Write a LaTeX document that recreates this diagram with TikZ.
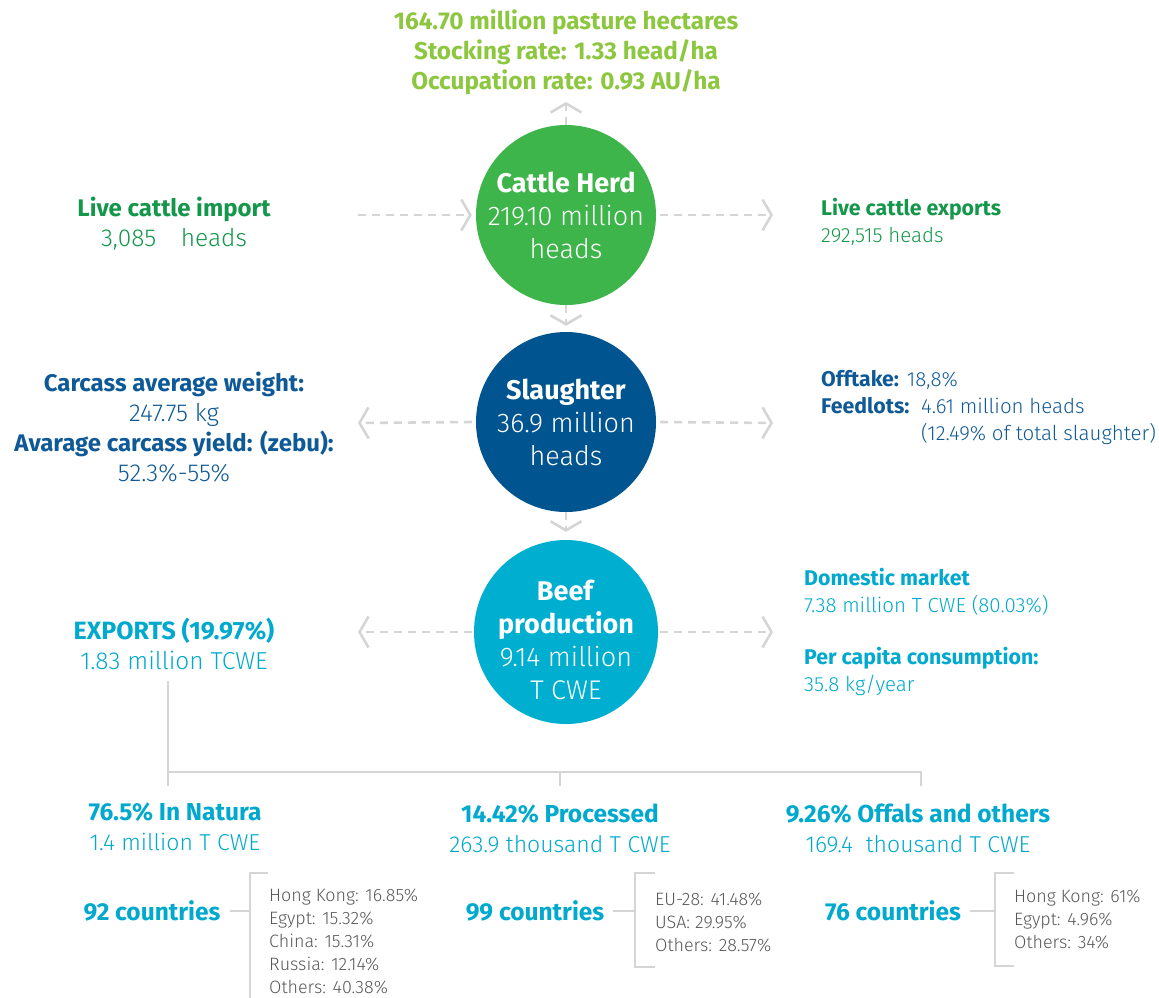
\documentclass[tikz,border=0pt]{standalone}
\usepackage{fontspec}
\setmainfont{Fira Sans}[UprightFont=* Light, BoldFont=* Bold]
\usetikzlibrary{arrows.meta}

\definecolor{lime}{HTML}{8DC63F}
\definecolor{herdgreen}{HTML}{3DB54A}
\definecolor{txtgreen}{HTML}{14964B}
\definecolor{navy}{HTML}{00548F}
\definecolor{txtnavy}{HTML}{0F5A96}
\definecolor{cyanc}{HTML}{00AED0}
\definecolor{txtcyan}{HTML}{00A9CD}
\definecolor{lgray}{HTML}{D5D5D5}
\definecolor{dgray}{HTML}{585858}

% type sizes for the label groups
\newcommand\sidebf[1]{{\fontsize{24}{30}\selectfont\bfseries #1}}
\newcommand\sidelt[1]{{\fontsize{24.5}{30}\selectfont #1}}
\newcommand\rightbf[1]{{\fontsize{21.3}{27}\selectfont\bfseries #1}}
\newcommand\rightlt[1]{{\fontsize{20.5}{27}\selectfont #1}}
\newcommand\headbf[1]{{\fontsize{24.5}{30}\selectfont\bfseries #1}}
\newcommand\headlt[1]{{\fontsize{23}{30}\selectfont #1}}

\tikzset{
  flow/.style={draw=lgray, line width=2.6pt, dash pattern=on 8pt off 6pt,
    -{Straight Barb[length=9pt, width=31pt, line width=2.6pt]}},
  tree/.style={draw=lgray, line width=2.8pt},
  stage/.style={circle, minimum size=180pt, inner sep=0pt, text=white, align=center,
    font=\fontsize{27}{33}\selectfont},
  lbl/.style={inner sep=0pt, align=center, font=\fontsize{24}{30}\selectfont},
  lbll/.style={inner sep=0pt, align=left, anchor=west, font=\fontsize{21}{27}\selectfont},
  head/.style={inner sep=0pt, align=center, font=\fontsize{24}{30}\selectfont},
  list/.style={inner sep=0pt, align=left, text=dgray, font=\fontsize{17.9}{23}\selectfont, anchor=west},
}

\begin{document}
\begin{tikzpicture}[x=1pt, y=-1pt]
\useasboundingbox (0,0) rectangle (1159,997);

% three stages of the chain
\node[stage, fill=herdgreen] (herd) at (566,215)
  {\textbf{Cattle Herd}\\219.10 million\\heads};
\node[stage, fill=navy] (slaughter) at (566,422)
  {\textbf{Slaughter}\\36.9 million\\heads};
\node[stage, fill=cyanc, minimum size=184pt] (beef) at (566,632) {};
\node[stage, minimum size=0pt] (beeftxt) at (566,640)
  {\textbf{Beef}\\\textbf{production}\\9.14 million\\T CWE};

% pasture figures above the herd
\node[lbl, text=lime, font=\fontsize{24.3}{30}\selectfont\bfseries] (pasture) at (566,52)
  {164.70 million pasture hectares\\Stocking rate: 1.33 head/ha\\Occupation rate: 0.93 AU/ha};
\coordinate (uptip) at (566,102);
\draw[flow] (herd.north) -- (uptip);

% live cattle trade
\node[lbl, text=txtgreen] (import) at (174,224)
  {\sidebf{Live cattle import}\\\sidelt{3,085\quad heads}};
\node[lbll, text=txtgreen] (export) at (821,222)
  {\rightbf{Live cattle exports}\\\rightlt{292,515 heads}};
\coordinate (impstart) at (358,215);
\coordinate (exptip) at (773,215);
\draw[flow, shorten >=-1pt] (impstart) -- ([xshift=-5pt]herd.west);
\draw[flow] ([xshift=4pt]herd.east) -- (exptip);

% slaughter figures
\node[lbl, text=txtnavy] (carcass) at (174,427)
  {\sidebf{Carcass average weight:}\\\sidelt{247.75 kg}\\
   \sidebf{Avarage carcass yield: (zebu):}\\\sidelt{52.3\%-55\%}};
\node[lbll, text=txtnavy] (offtake) at (821,408)
  {\rightbf{Offtake:} \rightlt{18,8\%}\\\rightbf{Feedlots:}\ \ \rightlt{4.61 million heads}\\
   \hphantom{\rightbf{Feedlots:}\ \ }\rightlt{(12.49\% of total slaughter)}};
\coordinate (carctip) at (358,423);
\coordinate (offtip) at (773,423);
\draw[flow] ([xshift=-4pt]slaughter.west) -- (carctip);
\draw[flow] ([xshift=4pt]slaughter.east) -- (offtip);

% vertical links between stages
\draw[flow, shorten >=6pt] (herd.south) -- (slaughter.north);
\draw[flow, shorten >=8pt] (slaughter.south) -- (beef.north);

% beef destinations
\node[lbl, text=txtcyan] (exports) at (174,644)
  {{\fontsize{25}{30}\selectfont\bfseries EXPORTS (19.97\%)}\\\sidelt{1.83 million TCWE}};
\node[lbll, text=txtcyan] (domestic) at (804,592)
  {\rightbf{Domestic market}\\\rightlt{7.38 million T CWE (80.03\%)}};
\node[lbll, text=txtcyan] (percapita) at (804,671)
  {\rightbf{Per capita consumption:}\\\rightlt{35.8 kg/year}};
\coordinate (exptip2) at (358,632);
\coordinate (domtip) at (773,632);
\draw[flow] ([xshift=-2pt]beef.west) -- (exptip2);
\draw[flow] ([xshift=2pt]beef.east) -- (domtip);

% export split tree
\coordinate (treetop) at (168,681);
\coordinate (treeL) at (168,772);
\coordinate (treeM) at (560,772);
\coordinate (treeR) at (921,772);
\coordinate (treeLd) at (168,786);
\coordinate (treeMd) at (560,786);
\coordinate (treeRd) at (921,786);
\draw[tree] (treetop) -- (treeLd);
\draw[tree] (treeL) -- (treeR) -- (treeRd);
\draw[tree] (treeM) -- (treeMd);

\node[head, text=txtcyan] (natura) at (175,827)
  {\headbf{76.5\% In Natura}\\\headlt{1.4 million T CWE}};
\node[head, text=txtcyan] (processed) at (560,828)
  {\headbf{14.42\% Processed}\\\headlt{263.9 thousand T CWE}};
\node[head, text=txtcyan] (offals) at (918,828)
  {\headbf{9.26\% Offals and others}\\\headlt{169.4\ \ thousand T CWE}};

% destination countries
\node[head, text=txtcyan] (c92) at (152,911) {\headbf{92 countries}};
\node[head, text=txtcyan] (c99) at (535,911) {\headbf{99 countries}};
\node[head, text=txtcyan] (c76) at (893,911) {\headbf{76 countries}};

\coordinate (b1a) at (268,873);
\coordinate (b1b) at (250,873);
\coordinate (b1c) at (250,1000);
\coordinate (b1m) at (250,911);
\draw[tree] (b1a) -- (b1b) -- (b1c);
\draw[tree] (c92.east) ++(9pt,0) -- (b1m);

\coordinate (b2a) at (655,873);
\coordinate (b2b) at (635,873);
\coordinate (b2c) at (635,967);
\coordinate (b2d) at (655,967);
\coordinate (b2m) at (635,911);
\draw[tree] (b2a) -- (b2b) -- (b2c) -- (b2d);
\draw[tree] (c99.east) ++(9pt,0) -- (b2m);

\coordinate (b3a) at (1014,873);
\coordinate (b3b) at (995,873);
\coordinate (b3c) at (995,966);
\coordinate (b3d) at (1014,966);
\coordinate (b3m) at (995,911);
\draw[tree] (b3a) -- (b3b) -- (b3c) -- (b3d);
\draw[tree] (c76.east) ++(9pt,0) -- (b3m);

\node[list] (l92) at (269,941)
  {Hong Kong: 16.85\%\\Egypt: 15.32\%\\China: 15.31\%\\Russia: 12.14\%\\Others: 40.38\%};
\node[list] (l99) at (655,922.5)
  {EU-28: 41.48\%\\USA: 29.95\%\\Others: 28.57\%};
\node[list] (l76) at (1014,919)
  {Hong Kong: 61\%\\Egypt: 4.96\%\\Others: 34\%};
\end{tikzpicture}
\end{document}
